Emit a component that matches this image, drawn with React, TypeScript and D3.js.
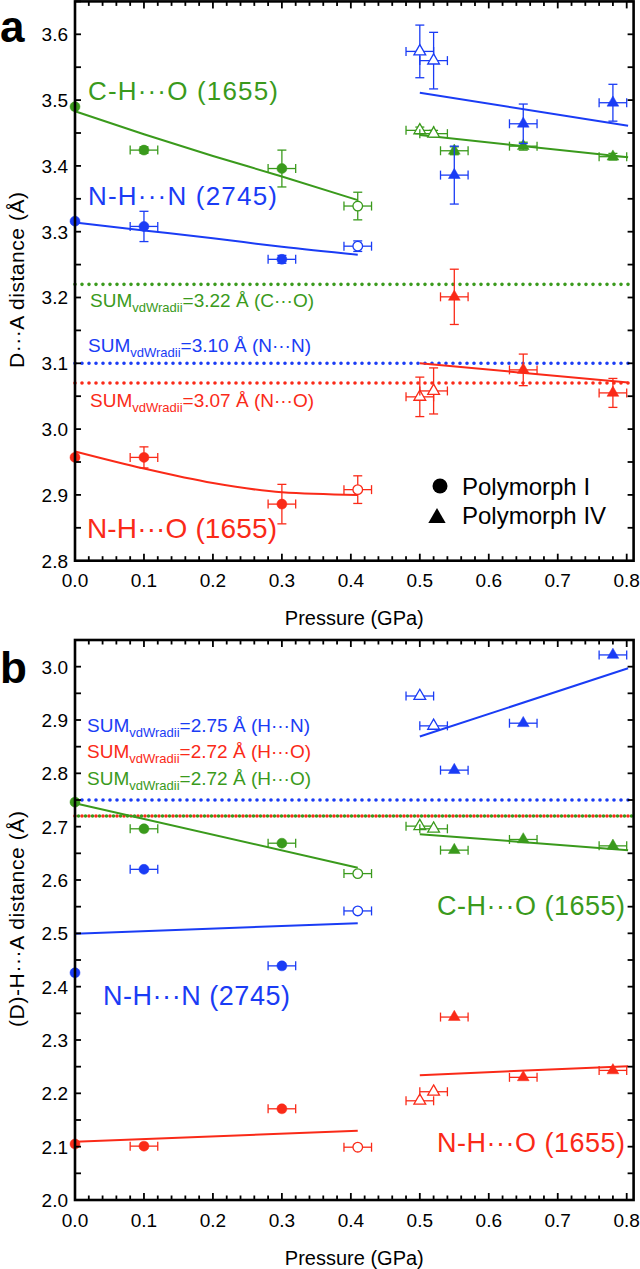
import React from 'react';
import * as d3 from 'd3';

const W = 640, H = 1269;
const GREEN = '#3a9a1c', BLUE = '#1a3cf5', RED = '#fa2a18';
const FONT = 'Liberation Sans, Arial, Helvetica, sans-serif';

// pressures (GPa)
const pressureI = [0, 0.1, 0.3, 0.41];
const pressureIV = [0.5, 0.52, 0.55, 0.65, 0.78];
const openI = [false, false, false, true];
const openIV = [true, true, false, false, false];
const pErrI = [0, 0.02, 0.02, 0.02];
const pErrIV = [0.02, 0.02, 0.02, 0.02, 0.02];

// panel a: D...A distances
const daCHO_I = [3.49, 3.424, 3.396, 3.339];
const daCHO_I_err = [0, 0.005, 0.028, 0.021];
const daNHN_I = [3.316, 3.308, 3.258, 3.278];
const daNHN_I_err = [0, 0.023, 0.006, 0.008];
const daNHO_I = [2.957, 2.957, 2.886, 2.908];
const daNHO_I_err = [0, 0.016, 0.03, 0.021];
const daCHO_IV = [3.454, 3.449, 3.423, 3.43, 3.414];
const daCHO_IV_err = [0.005, 0.005, 0.006, 0.006, 0.005];
const daNHN_IV = [3.574, 3.56, 3.386, 3.464, 3.496];
const daNHN_IV_err = [0.04, 0.043, 0.044, 0.03, 0.028];
const daNHO_IV = [3.049, 3.058, 3.201, 3.09, 3.055];
const daNHO_IV_err = [0.03, 0.035, 0.042, 0.024, 0.022];

// panel a fits
const fitA_I_x = [0, 0.1, 0.2, 0.3, 0.41];
const fitA_CHO_I = [3.483, 3.448, 3.415, 3.384, 3.348];
const fitA_NHN_I = [3.314, 3.302, 3.29, 3.277, 3.265];
const fitA_NHO_I = [2.966, 2.94, 2.918, 2.904, 2.9];
const fitIV_x = [0.5, 0.802];
const fitA_CHO_IV = [3.447, 3.413];
const fitA_NHN_IV = [3.511, 3.461];
const fitA_NHO_IV = [3.1, 3.071];

// panel b: (D)-H...A distances
const dhaCHO_I = [2.746, 2.696, 2.669, 2.612];
const dhaNHN_I = [2.426, 2.62, 2.439, 2.542];
const dhaNHO_I = [2.105, 2.101, 2.171, 2.099];
const dhaCHO_IV = [2.701, 2.696, 2.656, 2.676, 2.664];
const dhaNHN_IV = [2.945, 2.889, 2.806, 2.894, 3.022];
const dhaNHO_IV = [2.186, 2.203, 2.343, 2.23, 2.243];

// panel b fits
const fitB_I_x = [0, 0.41];
const fitB_CHO_I = [2.744, 2.623];
const fitB_NHN_I = [2.499, 2.519];
const fitB_NHO_I = [2.109, 2.13];
const fitB_CHO_IV = [2.686, 2.656];
const fitB_NHN_IV = [2.869, 2.997];
const fitB_NHO_IV = [2.234, 2.251];

// tick values
const xTicks = [0, 0.1, 0.2, 0.3, 0.4, 0.5, 0.6, 0.7, 0.8];
const yTicksA = [2.8, 2.9, 3.0, 3.1, 3.2, 3.3, 3.4, 3.5, 3.6];
const yTicksB = [2.0, 2.1, 2.2, 2.3, 2.4, 2.5, 2.6, 2.7, 2.8, 2.9, 3.0];

type Series = { x: number[]; y: number[]; xe: number[]; ye: number[] | null; open: boolean[]; shape: 'c' | 't'; color: string };
type Fit = { x: number[]; y: number[]; color: string };
type RefLine = { v: number; color: string; offset?: number };

const X0 = 75, X1 = 633.6;

function Panel(props: {
  yDomain: [number, number]; yRange: [number, number]; yTicks: number[];
  series: Series[]; fits: Fit[]; refs: RefLine[]; children?: React.ReactNode;
  xLabelY: number; xTitleY: number; yTitle: string; yTitleStart: number; yTitleLen: number;
}) {
  const x = d3.scaleLinear().domain([0, 0.81]).range([X0, X1]);
  const y = d3.scaleLinear().domain(props.yDomain).range(props.yRange);
  const [yb, yt] = props.yRange;
  const line = d3.line<[number, number]>().x(d => x(d[0])).y(d => y(d[1])).curve(d3.curveMonotoneX);
  const xMinor = d3.range(0, 0.81, 0.02);
  const yMinor = d3.range(props.yDomain[0], props.yDomain[1] + 1e-9, 0.05);
  const tri = d3.symbol(d3.symbolTriangle, 60)()!;
  return (
    <g>
      {props.refs.map((r, i) => (
        <line key={'r' + i} x1={X0} x2={X1} y1={y(r.v)} y2={y(r.v)} stroke={r.color}
          strokeWidth={3.6} strokeLinecap="round" strokeDasharray="0 7" strokeDashoffset={r.offset || 0} />
      ))}
      {props.fits.map((f, i) => (
        <path key={'f' + i} d={line(f.x.map((v, j) => [v, f.y[j]] as [number, number]))!} fill="none" stroke={f.color} strokeWidth={2} />
      ))}
      {props.series.map((s, si) => (
        <g key={'s' + si} stroke={s.color} strokeWidth={1.3}>
          {s.x.map((xv, j) => {
            const cx = x(xv), cy = y(s.y[j]);
            const els: React.ReactNode[] = [];
            if (s.xe[j] > 0) {
              const a = x(xv - s.xe[j]), b = x(xv + s.xe[j]);
              els.push(<line key="xe" x1={a} x2={b} y1={cy} y2={cy} />);
              els.push(<line key="xa" x1={a} x2={a} y1={cy - 4.5} y2={cy + 4.5} />);
              els.push(<line key="xb" x1={b} x2={b} y1={cy - 4.5} y2={cy + 4.5} />);
            }
            if (s.ye && s.ye[j] > 0) {
              const a = y(s.y[j] - s.ye[j]), b = y(s.y[j] + s.ye[j]);
              els.push(<line key="ye" x1={cx} x2={cx} y1={a} y2={b} />);
              els.push(<line key="ya" x1={cx - 4.5} x2={cx + 4.5} y1={a} y2={a} />);
              els.push(<line key="yb" x1={cx - 4.5} x2={cx + 4.5} y1={b} y2={b} />);
            }
            const fill = s.open[j] ? '#ffffff' : s.color;
            if (s.shape === 'c') {
              els.push(<circle key="m" cx={cx} cy={cy} r={s.open[j] ? 4.8 : 5} fill={fill} stroke={s.color} strokeWidth={s.open[j] ? 1.3 : 0.5} />);
            } else {
              els.push(<path key="m" d={tri} transform={`translate(${cx},${cy})`} fill={fill} stroke={s.color} strokeWidth={s.open[j] ? 1.3 : 0.5} />);
            }
            return <g key={j}>{els}</g>;
          })}
        </g>
      ))}
      {props.children}
      {/* frame */}
      <rect x={X0} y={yt} width={X1 - X0} height={yb - yt} fill="none" stroke="#000" strokeWidth={2.6} />
      {/* x ticks */}
      {xMinor.map((v, i) => {
        const major = Math.abs(v * 10 - Math.round(v * 10)) < 1e-6;
        const L = major ? 7 : 4.5;
        return (
          <g key={'xt' + i} stroke="#000" strokeWidth={1.8}>
            <line x1={x(v)} x2={x(v)} y1={yb} y2={yb - L} />
            <line x1={x(v)} x2={x(v)} y1={yt} y2={yt + L} />
          </g>
        );
      })}
      {yMinor.map((v, i) => {
        if (v <= props.yDomain[0] + 1e-9) return null;
        return (
          <g key={'yt' + i} stroke="#000" strokeWidth={1.8}>
            <line x1={X0} x2={X0 + 6} y1={y(v)} y2={y(v)} />
            <line x1={X1} x2={X1 - 6} y1={y(v)} y2={y(v)} />
          </g>
        );
      })}
      {xTicks.map((v, i) => (
        <text key={'xl' + i} x={x(v)} y={props.xLabelY} textAnchor="middle" fontSize={19} fontFamily={FONT} fill="#000">{v.toFixed(1)}</text>
      ))}
      {props.yTicks.map((v, i) => (
        <text key={'yl' + i} x={68} y={y(v)} dy="0.36em" textAnchor="end" fontSize={19} fontFamily={FONT} fill="#000">{v.toFixed(1)}</text>
      ))}
      <text x={(X0 + X1) / 2} y={props.xTitleY} textAnchor="middle" fontSize={20} fontFamily={FONT} fill="#000">Pressure (GPa)</text>
      <text transform={`translate(24,${props.yTitleStart}) rotate(-90)`} textAnchor="start" fontSize={21} fontFamily={FONT} fill="#000"
        textLength={props.yTitleLen} lengthAdjust="spacing">{props.yTitle}</text>
    </g>
  );
}

function SumLabel(p: { x: number; y: number; color: string; rest: string }) {
  return (
    <text x={p.x} y={p.y} fill={p.color} fontFamily={FONT} fontSize={19}>
      SUM<tspan fontSize={13} dy={5}>vdWradii</tspan><tspan dy={-5}>{p.rest}</tspan>
    </text>
  );
}

function BigLabel(p: { x: number; y: number; color: string; text: string; size: number; len: number }) {
  return (
    <text x={p.x} y={p.y} fill={p.color} fontFamily={FONT} fontSize={p.size} textLength={p.len} lengthAdjust="spacing">{p.text}</text>
  );
}

export default function App() {
  const seriesA: Series[] = [
    { x: pressureI, y: daCHO_I, xe: pErrI, ye: daCHO_I_err, open: openI, shape: 'c', color: GREEN },
    { x: pressureI, y: daNHN_I, xe: pErrI, ye: daNHN_I_err, open: openI, shape: 'c', color: BLUE },
    { x: pressureI, y: daNHO_I, xe: pErrI, ye: daNHO_I_err, open: openI, shape: 'c', color: RED },
    { x: pressureIV, y: daCHO_IV, xe: pErrIV, ye: daCHO_IV_err, open: openIV, shape: 't', color: GREEN },
    { x: pressureIV, y: daNHN_IV, xe: pErrIV, ye: daNHN_IV_err, open: openIV, shape: 't', color: BLUE },
    { x: pressureIV, y: daNHO_IV, xe: pErrIV, ye: daNHO_IV_err, open: openIV, shape: 't', color: RED },
  ];
  const fitsA: Fit[] = [
    { x: fitA_I_x, y: fitA_CHO_I, color: GREEN },
    { x: fitA_I_x, y: fitA_NHN_I, color: BLUE },
    { x: fitA_I_x, y: fitA_NHO_I, color: RED },
    { x: fitIV_x, y: fitA_CHO_IV, color: GREEN },
    { x: fitIV_x, y: fitA_NHN_IV, color: BLUE },
    { x: fitIV_x, y: fitA_NHO_IV, color: RED },
  ];
  const seriesB: Series[] = [
    { x: pressureI, y: dhaCHO_I, xe: pErrI, ye: null, open: openI, shape: 'c', color: GREEN },
    { x: pressureI, y: dhaNHN_I, xe: pErrI, ye: null, open: openI, shape: 'c', color: BLUE },
    { x: pressureI, y: dhaNHO_I, xe: pErrI, ye: null, open: openI, shape: 'c', color: RED },
    { x: pressureIV, y: dhaCHO_IV, xe: pErrIV, ye: null, open: openIV, shape: 't', color: GREEN },
    { x: pressureIV, y: dhaNHN_IV, xe: pErrIV, ye: null, open: openIV, shape: 't', color: BLUE },
    { x: pressureIV, y: dhaNHO_IV, xe: pErrIV, ye: null, open: openIV, shape: 't', color: RED },
  ];
  const fitsB: Fit[] = [
    { x: fitB_I_x, y: fitB_CHO_I, color: GREEN },
    { x: fitB_I_x, y: fitB_NHN_I, color: BLUE },
    { x: fitB_I_x, y: fitB_NHO_I, color: RED },
    { x: fitIV_x, y: fitB_CHO_IV, color: GREEN },
    { x: fitIV_x, y: fitB_NHN_IV, color: BLUE },
    { x: fitIV_x, y: fitB_NHO_IV, color: RED },
  ];
  const legTri = d3.symbol(d3.symbolTriangle, 130)()!;
  return (
    <svg width={W} height={H} style={{ position: 'absolute', left: 0, top: 0, background: '#fff' }} xmlns="http://www.w3.org/2000/svg">
      <rect width={W} height={H} fill="#fff" />
      <text x={0} y={42} fontSize={44} fontWeight="bold" fontFamily={FONT} fill="#000">a</text>
      <text x={0} y={683} fontSize={44} fontWeight="bold" fontFamily={FONT} fill="#000">b</text>
      <Panel yDomain={[2.8, 3.65]} yRange={[560.7, 1.4]} yTicks={yTicksA} series={seriesA} fits={fitsA}
        refs={[{ v: 3.22, color: GREEN }, { v: 3.1, color: BLUE }, { v: 3.07, color: RED }]}
        xLabelY={587} xTitleY={625} yTitle="D···A distance (Å)" yTitleStart={368} yTitleLen={176}>
        <BigLabel x={88} y={100} color={GREEN} text="C-H···O (1655)" size={26} len={190} />
        <BigLabel x={88} y={205} color={BLUE} text="N-H···N (2745)" size={26} len={189} />
        <BigLabel x={87} y={538} color={RED} text="N-H···O (1655)" size={28} len={190} />
        <SumLabel x={90} y={307} color={GREEN} rest="=3.22 Å (C···O)" />
        <SumLabel x={88} y={352} color={BLUE} rest="=3.10 Å (N···N)" />
        <SumLabel x={90} y={407} color={RED} rest="=3.07 Å (N···O)" />
        <circle cx={440} cy={486} r={7.5} fill="#000" />
        <text x={462} y={495} fontSize={24} fontFamily={FONT} fill="#000">Polymorph I</text>
        <path d={legTri} transform="translate(437,518)" fill="#000" />
        <text x={462} y={524} fontSize={24} fontFamily={FONT} fill="#000">Polymorph IV</text>
      </Panel>
      <Panel yDomain={[2.0, 3.05]} yRange={[1200, 640]} yTicks={yTicksB} series={seriesB} fits={fitsB}
        refs={[{ v: 2.75, color: BLUE }, { v: 2.72, color: RED }, { v: 2.72, color: GREEN, offset: 3.5 }]}
        xLabelY={1227} xTitleY={1265} yTitle="(D)-H···A distance (Å)" yTitleStart={1027} yTitleLen={216}>
        <SumLabel x={87} y={732} color={BLUE} rest="=2.75 Å (H···N)" />
        <SumLabel x={87} y={758} color={RED} rest="=2.72 Å (H···O)" />
        <SumLabel x={87} y={785} color={GREEN} rest="=2.72 Å (H···O)" />
        <BigLabel x={437} y={915} color={GREEN} text="C-H···O (1655)" size={27} len={188} />
        <BigLabel x={103} y={1005} color={BLUE} text="N-H···N (2745)" size={27} len={187} />
        <BigLabel x={437} y={1152} color={RED} text="N-H···O (1655)" size={27} len={188} />
      </Panel>
    </svg>
  );
}
